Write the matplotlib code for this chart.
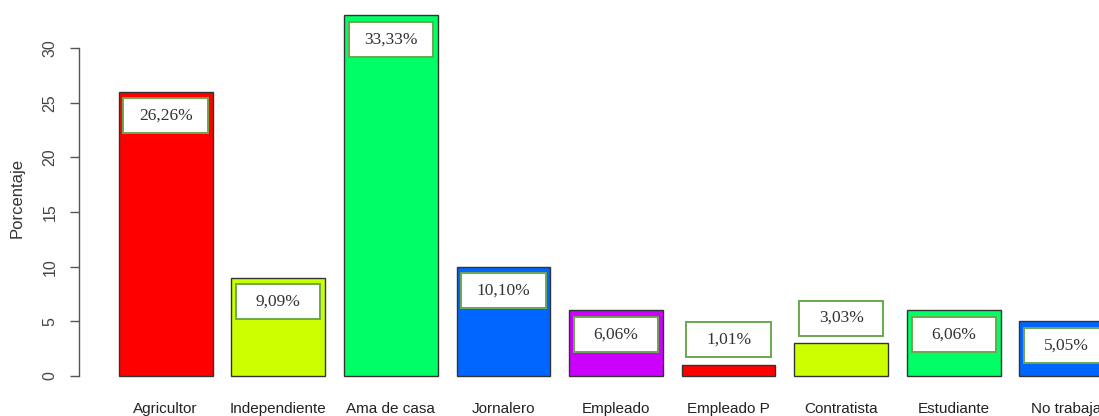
import matplotlib
matplotlib.use("Agg")
import matplotlib.pyplot as plt
from matplotlib.patches import Rectangle

categories = ["Agricultor", "Independiente", "Ama de casa", "Jornalero", "Empleado",
              "Empleado P", "Contratista", "Estudiante", "No trabaja"]
counts = [26, 9, 33, 10, 6, 1, 3, 6, 5]
labels = ["26,26%", "9,09%", "33,33%", "10,10%", "6,06%", "1,01%", "3,03%", "6,06%", "5,05%"]
colors = ["#FF0000", "#CCFF00", "#00FF66", "#0066FF", "#CC00FF",
          "#FF0000", "#CCFF00", "#00FF66", "#0066FF"]
yticks = [0, 5, 10, 15, 20, 25, 30]

W, H = 1099, 416
fig = plt.figure(figsize=(W / 100, H / 100), dpi=100)
ax_left, ax_right = 79, 1153
ax_top, ax_bot = 1, 390.4
ax = fig.add_axes([ax_left / W, 1 - ax_bot / H, (ax_right - ax_left) / W, (ax_bot - ax_top) / H])

x = [0.7 + 1.2 * i for i in range(len(counts))]
ax.bar(x, counts, width=1.0, color=colors, edgecolor="#333333", linewidth=1.0, zorder=2)

for xi, c, lab in zip(x, counts, labels):
    yc = c - 2.2 if c >= 5 else c + 2.3
    ax.add_patch(Rectangle((xi - 0.45, yc - 1.6), 0.9, 3.2, facecolor="white",
                           edgecolor="#6aa84f", linewidth=1.4, zorder=3))
    ax.text(xi, yc, lab, ha="center", va="center", fontsize=12.5,
            family="Liberation Serif", color="#333333", zorder=4)

ax.set_xlim(-0.224, 11.224)
ax.set_ylim(-1.32, 34.32)

for s in ["top", "right", "bottom"]:
    ax.spines[s].set_visible(False)
ax.spines["left"].set_bounds(0, 30)
ax.spines["left"].set_color("#555555")
ax.spines["left"].set_linewidth(1.0)

ax.set_yticks(yticks)
ax.set_yticklabels([str(t) for t in yticks], rotation=90, va="center",
                   family="Liberation Sans", fontsize=11.5, color="#444444")
ax.tick_params(axis="y", length=6.5, width=1.0, color="#555555", pad=9)

ax.set_xticks(x)
ax.set_xticklabels(categories, family="Liberation Sans", fontsize=11, color="#222222")
ax.tick_params(axis="x", length=0, pad=8)

fig.text(17 / W, 1 - 198 / H, "Porcentaje", rotation=90, ha="center", va="center",
         family="Liberation Sans", fontsize=12, color="#333333")

fig.savefig("out.png", dpi=100)
